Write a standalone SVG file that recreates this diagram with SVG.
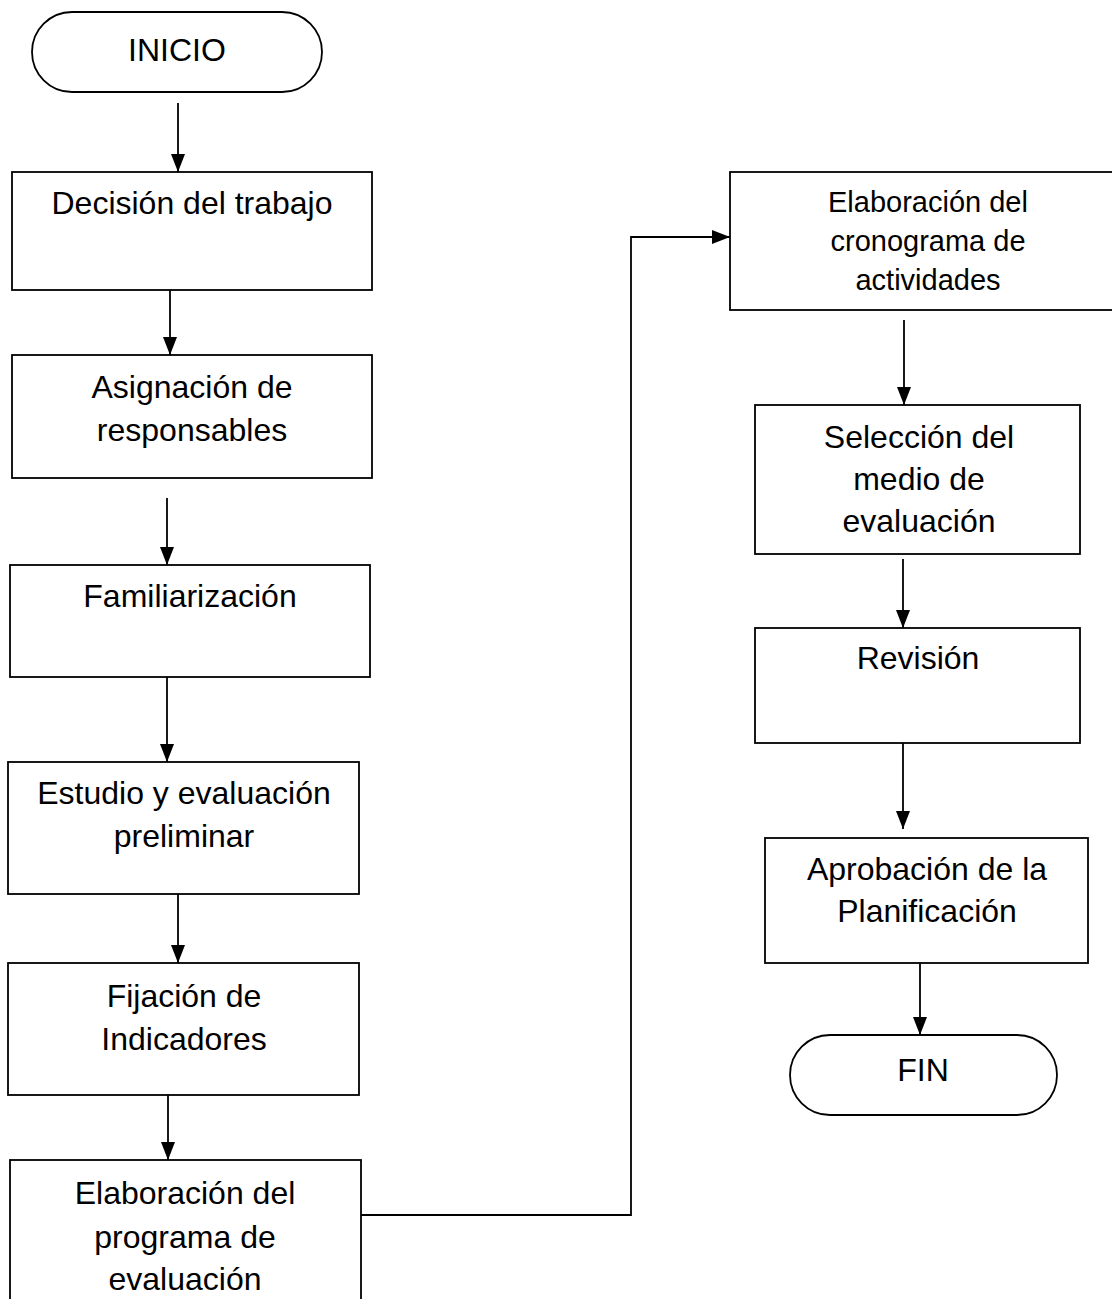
<svg xmlns="http://www.w3.org/2000/svg" width="1112" height="1299" viewBox="0 0 1112 1299">
<style>
.box{fill:#fff;stroke:#000;stroke-width:1.8}
.t{font-family:"Liberation Sans",Arial,sans-serif;font-size:32px;fill:#000;text-anchor:middle}
.t2{font-family:"Liberation Sans",Arial,sans-serif;font-size:29px;fill:#000;text-anchor:middle}
.c{fill:none;stroke:#000;stroke-width:1.8}
</style>
<defs>
<marker id="ah" markerUnits="userSpaceOnUse" markerWidth="18" markerHeight="14" refX="18" refY="7" orient="auto">
<path d="M0,0 L18,7 L0,14 z" fill="#000"/>
</marker>
</defs>
<rect width="1112" height="1299" fill="#fff"/>
<g id="connectors">
<line class="c" x1="178" y1="103" x2="178" y2="172" marker-end="url(#ah)"/>
<line class="c" x1="170" y1="290" x2="170" y2="355" marker-end="url(#ah)"/>
<line class="c" x1="167" y1="498" x2="167" y2="565" marker-end="url(#ah)"/>
<line class="c" x1="167" y1="677" x2="167" y2="762" marker-end="url(#ah)"/>
<line class="c" x1="178" y1="894" x2="178" y2="963" marker-end="url(#ah)"/>
<line class="c" x1="168" y1="1095" x2="168" y2="1160" marker-end="url(#ah)"/>
<path class="c" d="M361,1215 H631 V237 H730" marker-end="url(#ah)"/>
<line class="c" x1="904" y1="320" x2="904" y2="405" marker-end="url(#ah)"/>
<line class="c" x1="903" y1="559" x2="903" y2="628" marker-end="url(#ah)"/>
<line class="c" x1="903" y1="743" x2="903" y2="829" marker-end="url(#ah)"/>
<line class="c" x1="920" y1="963" x2="920" y2="1035" marker-end="url(#ah)"/>
</g>
<g id="inicio">
<rect class="box" x="32" y="12" width="290" height="80" rx="40" ry="40"/>
<text class="t" x="177" y="61">INICIO</text>
</g>
<g id="decision">
<rect class="box" x="12" y="172" width="360" height="118"/>
<text class="t" x="192" y="214">Decisión del trabajo</text>
</g>
<g id="asignacion">
<rect class="box" x="12" y="355" width="360" height="123"/>
<text class="t" x="192" y="398">Asignación de</text>
<text class="t" x="192" y="441">responsables</text>
</g>
<g id="familiarizacion">
<rect class="box" x="10" y="565" width="360" height="112"/>
<text class="t" x="190" y="607">Familiarización</text>
</g>
<g id="estudio">
<rect class="box" x="8" y="762" width="351" height="132"/>
<text class="t" x="184" y="804">Estudio y evaluación</text>
<text class="t" x="184" y="847">preliminar</text>
</g>
<g id="fijacion">
<rect class="box" x="8" y="963" width="351" height="132"/>
<text class="t" x="184" y="1007">Fijación de</text>
<text class="t" x="184" y="1050">Indicadores</text>
</g>
<g id="programa">
<rect class="box" x="10" y="1160" width="351" height="160"/>
<text class="t" x="185" y="1204">Elaboración del</text>
<text class="t" x="185" y="1248">programa de</text>
<text class="t" x="185" y="1290">evaluación</text>
</g>
<g id="cronograma">
<rect class="box" x="730" y="172" width="390" height="138"/>
<text class="t2" x="928" y="212">Elaboración del</text>
<text class="t2" x="928" y="251">cronograma de</text>
<text class="t2" x="928" y="290">actividades</text>
</g>
<g id="seleccion">
<rect class="box" x="755" y="405" width="325" height="149"/>
<text class="t" x="919" y="448">Selección del</text>
<text class="t" x="919" y="490">medio de</text>
<text class="t" x="919" y="532">evaluación</text>
</g>
<g id="revision">
<rect class="box" x="755" y="628" width="325" height="115"/>
<text class="t" x="918" y="669">Revisión</text>
</g>
<g id="aprobacion">
<rect class="box" x="765" y="838" width="323" height="125"/>
<text class="t" x="927" y="880">Aprobación de la</text>
<text class="t" x="927" y="922">Planificación</text>
</g>
<g id="fin">
<rect class="box" x="790" y="1035" width="267" height="80" rx="40" ry="40"/>
<text class="t" x="923" y="1081">FIN</text>
</g>
</svg>
